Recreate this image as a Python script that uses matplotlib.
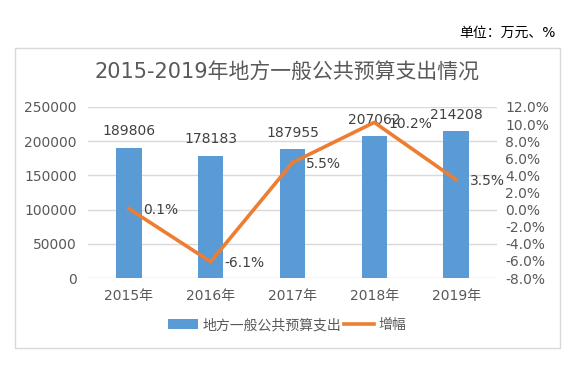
import matplotlib
matplotlib.use("Agg")
import matplotlib.pyplot as plt
import matplotlib.ticker as tkr
from matplotlib.patches import Rectangle
from matplotlib.lines import Line2D
from matplotlib.patches import Patch

plt.rcParams['font.family'] = ['DejaVu Sans', 'Noto Sans CJK SC']

years = ['2015年', '2016年', '2017年', '2018年', '2019年']
spending = [189806, 178183, 187955, 207062, 214208]
growth = [0.1, -6.1, 5.5, 10.2, 3.5]

bar_color = '#5B9BD5'
line_color = '#ED7D31'
text_color = '#595959'
grid_color = '#D9D9D9'

W, H = 577, 371
fig = plt.figure(figsize=(W / 100, H / 100), dpi=100)

# chart border
fig.patches.append(Rectangle((15 / W, 1 - 348 / H), 545 / W, 300 / H,
                             transform=fig.transFigure, fill=False,
                             edgecolor='#D9D9D9', linewidth=1))

ax = fig.add_axes([88 / W, 1 - 278 / H, 409 / W, 171 / H])
x = range(len(years))
ax.bar(x, spending, width=0.31, color=bar_color, zorder=2)
ax.set_ylim(0, 250000)
ax.set_yticks(range(0, 250001, 50000))
ax.set_xlim(-0.5, len(years) - 0.5)
ax.set_xticks(list(x))
ax.set_xticklabels(years)
ax.grid(axis='y', color=grid_color, linewidth=1, zorder=0)
for s in ax.spines.values():
    s.set_visible(False)
ax.tick_params(length=0, labelsize=10, colors=text_color)
ax.tick_params(axis='x', pad=8)
ax.tick_params(axis='y', pad=8)

for xi, v in zip(x, spending):
    ax.annotate(str(v), (xi, v), xytext=(0, 7), textcoords='offset points',
                ha='center', va='bottom', fontsize=10, color='#404040')

ax2 = ax.twinx()
ax2.plot(list(x), growth, color=line_color, linewidth=2.6, zorder=3)
ax2.set_ylim(-8, 12)
ax2.set_yticks(range(-8, 13, 2))
ax2.yaxis.set_major_formatter(tkr.FuncFormatter(lambda v, p: '%.1f%%' % v))
for s in ax2.spines.values():
    s.set_visible(False)
ax2.tick_params(length=0, labelsize=10, colors=text_color, pad=6)

for xi, v in zip(x, growth):
    ax2.annotate('%.1f%%' % v, (xi, v), xytext=(10, -1), textcoords='offset points',
                 ha='left', va='center', fontsize=10, color='#404040')

fig.text(287 / W, 1 - 73 / H, '2015-2019年地方一般公共预算支出情况',
         ha='center', va='center', fontsize=15, color=text_color)
fig.text(556 / W, 1 - 33 / H, '单位：万元、%', ha='right', va='center',
         fontsize=10, color='#000000')

handles = [Patch(facecolor=bar_color, label='地方一般公共预算支出'),
           Line2D([0], [0], color=line_color, linewidth=2.6, label='增幅')]
fig.legend(handles=handles, loc='center', bbox_to_anchor=(287 / W, 1 - 325 / H),
           ncol=2, frameon=False, fontsize=10, labelcolor=text_color,
           handlelength=2.2, handletextpad=0.3, columnspacing=0.2)

fig.savefig('out.png', dpi=100)
